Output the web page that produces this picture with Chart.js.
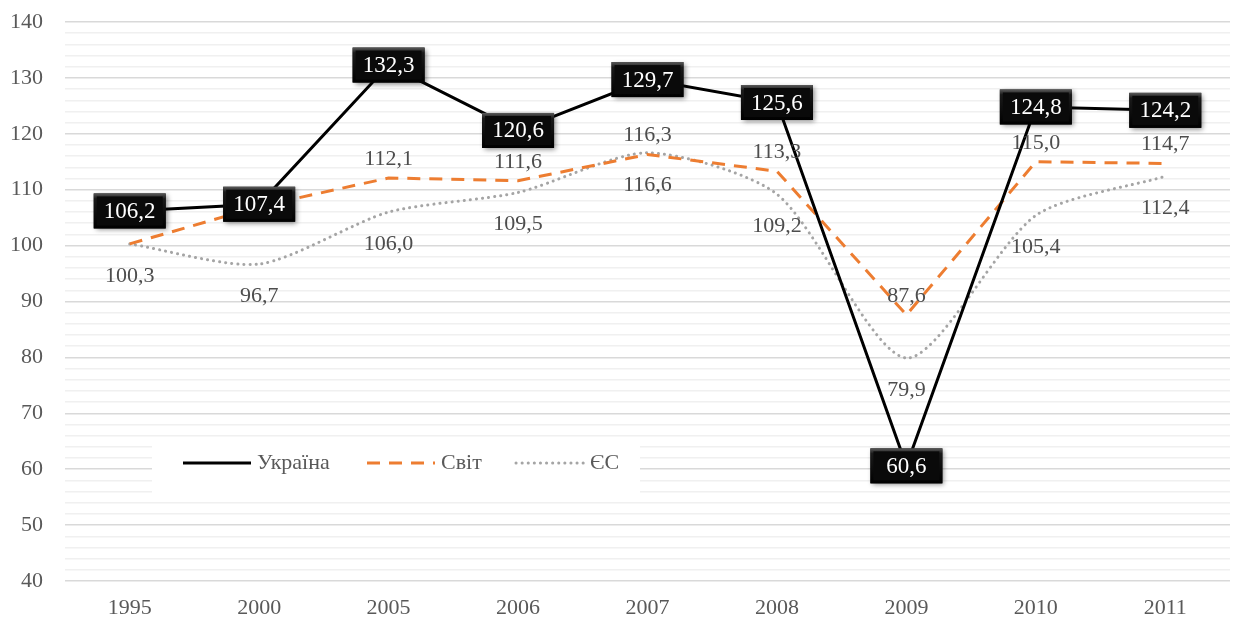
<html>
<head>
<script src="https://cdn.jsdelivr.net/npm/chart.js@4.4.0/dist/chart.umd.min.js"></script>
<style>
  body { margin: 0; background: #fff; }
  #wrap { width: 1245px; height: 618px; }
</style>
</head>
<body>
<div id="wrap"><canvas id="myChart"></canvas></div>
<script>
var years = ['1995', '2000', '2005', '2006', '2007', '2008', '2009', '2010', '2011'];
var ukraine = [106.2, 107.4, 132.3, 120.6, 129.7, 125.6, 60.6, 124.8, 124.2];
var world = [100.3, 107.0, 112.1, 111.6, 116.3, 113.3, 87.6, 115.0, 114.7];
var eu = [100.3, 96.7, 106.0, 109.5, 116.6, 109.2, 79.9, 105.4, 112.4];

var font = '"Liberation Serif", "Times New Roman", serif';
var textColor = '#595959';
var boxW = 72, boxH = 35;

function fmt(v) { return v.toFixed(1).replace('.', ','); }

// data labels: boxes for Ukraine, plain text above/below for the others
var labelPlugin = {
  id: 'labels',
  afterDatasetsDraw: function(chart) {
    var ctx = chart.ctx;
    ctx.save();
    ctx.font = '22px ' + font;
    ctx.textAlign = 'center';
    ctx.textBaseline = 'middle';

    // where the boxes go, so plain labels hidden under them are skipped
    var boxes = [];
    chart.data.datasets.forEach(function(ds, i) {
      if (ds.labelMode !== 'box') return;
      chart.getDatasetMeta(i).data.forEach(function(p) { boxes.push(p); });
    });

    chart.data.datasets.forEach(function(ds, i) {
      if (ds.labelMode === 'box') return;
      var pts = chart.getDatasetMeta(i).data;
      ctx.fillStyle = '#4d4d4d';
      pts.forEach(function(p, j) {
        var dy = ds.labelMode === 'above' ? -19 : 32;
        var ty = p.y + dy;
        var hidden = boxes.some(function(b) {
          return Math.abs(b.x - p.x) < boxW / 2 + 5 && Math.abs(b.y - ty) < boxH / 2 + 8;
        });
        if (!hidden) ctx.fillText(fmt(ds.data[j]), p.x, ty);
      });
    });

    ctx.font = '23px ' + font;
    chart.data.datasets.forEach(function(ds, i) {
      if (ds.labelMode !== 'box') return;
      var pts = chart.getDatasetMeta(i).data;
      pts.forEach(function(p, j) {
        var x = p.x - boxW / 2, y = p.y - boxH / 2;
        ctx.save();
        ctx.shadowColor = 'rgba(0,0,0,0.45)';
        ctx.shadowBlur = 5;
        ctx.shadowOffsetX = 2;
        ctx.shadowOffsetY = 2;
        ctx.fillStyle = '#0a0a0a';
        ctx.fillRect(x, y, boxW, boxH);
        ctx.restore();
        var g = ctx.createLinearGradient(x, y, x, y + boxH);
        g.addColorStop(0, '#5a5a5a');
        g.addColorStop(0.15, '#1a1a1a');
        g.addColorStop(1, '#000');
        ctx.strokeStyle = g;
        ctx.lineWidth = 3;
        ctx.strokeRect(x + 1.5, y + 1.5, boxW - 3, boxH - 3);
        ctx.fillStyle = '#fff';
        ctx.fillText(fmt(ds.data[j]), p.x, p.y + 1);
      });
    });
    ctx.restore();
  }
};

// legend drawn inside the plot area
var legendPlugin = {
  id: 'innerLegend',
  beforeDatasetsDraw: function(chart) {
    var ctx = chart.ctx;
    var a = chart.chartArea;
    var bx = a.left + 87, by = a.top + 415, bw = 488, bh = 58;
    ctx.save();
    ctx.fillStyle = '#fff';
    ctx.fillRect(bx, by, bw, bh);
    ctx.font = '22px ' + font;
    ctx.textBaseline = 'middle';
    ctx.textAlign = 'left';
    var cy = by + 26;
    var offs = [31, 215, 364];
    chart.data.datasets.forEach(function(ds, i) {
      var x0 = bx + offs[i];
      ctx.beginPath();
      ctx.strokeStyle = ds.borderColor;
      ctx.lineWidth = ds.borderWidth;
      ctx.lineCap = ds.borderCapStyle || 'butt';
      ctx.setLineDash(ds.borderDash || []);
      ctx.moveTo(x0, cy);
      ctx.lineTo(x0 + 68, cy);
      ctx.stroke();
      ctx.setLineDash([]);
      ctx.fillStyle = textColor;
      ctx.fillText(ds.label, x0 + 74, cy);
    });
    ctx.restore();
  }
};

var ctx = document.getElementById('myChart').getContext('2d');
var chart = new Chart(ctx, {
  type: 'line',
  data: {
    labels: years,
    datasets: [
      {
        label: 'Україна',
        data: ukraine,
        borderColor: '#000',
        borderWidth: 3,
        pointRadius: 0,
        tension: 0,
        labelMode: 'box'
      },
      {
        label: 'Світ',
        data: world,
        borderColor: '#ED7D31',
        borderWidth: 3,
        borderDash: [13, 9],
        pointRadius: 0,
        tension: 0,
        labelMode: 'above'
      },
      {
        label: 'ЄС',
        data: eu,
        borderColor: '#A5A5A5',
        borderWidth: 3,
        borderDash: [0.1, 6],
        borderCapStyle: 'round',
        pointRadius: 0,
        tension: 0.25,
        labelMode: 'below'
      }
    ]
  },
  options: {
    responsive: true,
    maintainAspectRatio: false,
    animation: false,
    layout: { padding: { left: 0, right: 15, top: 22, bottom: 0 } },
    plugins: {
      legend: { display: false },
      tooltip: { enabled: false }
    },
    scales: {
      x: {
        offset: true,
        afterFit: function(s) { s.height = 37; s.paddingLeft = 0; s.paddingRight = 0; },
        grid: { display: false },
        border: { display: false },
        ticks: { color: textColor, font: { family: font, size: 22 }, padding: 6 }
      },
      y: {
        min: 40,
        max: 140,
        afterFit: function(s) { s.width = 65; s.paddingTop = 0; s.paddingBottom = 0; },
        border: { display: false },
        grid: {
          drawTicks: false,
          lineWidth: 1.5,
          color: function(c) {
            return c.tick && c.tick.value % 10 === 0 ? '#d9d9d9' : '#f0f0f0';
          }
        },
        ticks: {
          stepSize: 2,
          autoSkip: false,
          padding: 22,
          color: textColor,
          font: { family: font, size: 22 },
          callback: function(v) { return v % 10 === 0 ? v : ''; }
        }
      }
    }
  },
  plugins: [legendPlugin, labelPlugin]
});
</script>
</body>
</html>
